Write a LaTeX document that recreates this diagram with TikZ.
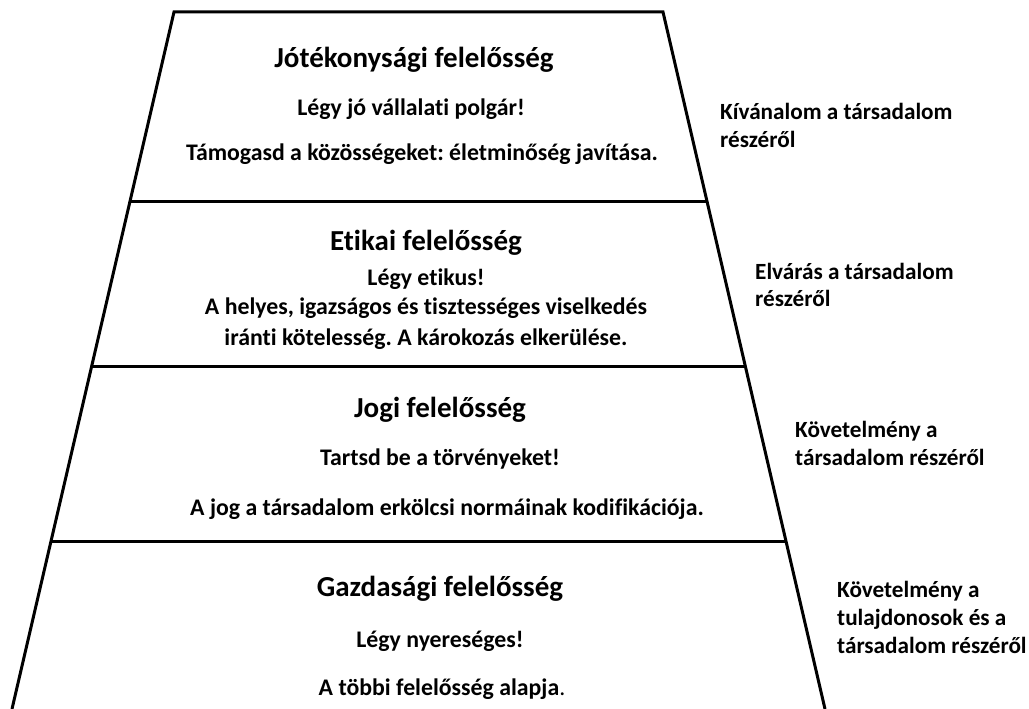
\documentclass[tikz,border=0pt]{standalone}
\usepackage{fontspec}
\setmainfont{Carlito}[Ligatures={NoCommon}]
\frenchspacing
\begin{document}
\begin{tikzpicture}[x=1pt,y=-1pt,
  edge/.style={line width=3pt,line cap=butt,line join=miter},
  ttl/.style={font=\fontsize{29}{34}\selectfont\bfseries,inner sep=0pt,anchor=base},
  body/.style={font=\fontsize{23.8}{28}\selectfont\bfseries,inner sep=0pt,anchor=base},
  lbl/.style={font=\fontsize{23.2}{28}\selectfont\bfseries,inner sep=0pt,anchor=base west}]
\useasboundingbox (0,0) rectangle (1029,709);
% pyramid outline
\coordinate (TL) at (174,12);
\coordinate (TR) at (663,12);
\coordinate (BL) at (12,709);
\coordinate (BR) at (825,709);
\coordinate (L1) at (130.1,201);
\coordinate (R1) at (706.9,201);
\coordinate (L2) at (91.7,366);
\coordinate (R2) at (745.3,366);
\coordinate (L3) at (51.1,541);
\coordinate (R3) at (785.9,541);
\draw[edge] (BL) -- (TL) -- (TR) -- (BR);
\draw[edge] (L1) -- (R1);
\draw[edge] (L2) -- (R2);
\draw[edge] (L3) -- (R3);
% layer 1
\node[ttl] (t1) at (414,68) {Jótékonysági felelősség};
\node[body] (t1a) at (411,115) {Légy jó vállalati polgár!};
\node[body] (t1b) at (422,160) {Támogasd a közösségeket: életminőség javítása.};
% layer 2
\node[ttl] (t2) at (426,250) {Etikai felelősség};
\node[body] (t2a) at (426,285) {Légy etikus!};
\node[body] (t2b) at (426,314) {A helyes, igazságos és tisztességes viselkedés};
\node[body] (t2c) at (426,345) {iránti kötelesség. A károkozás elkerülése.};
% layer 3
\node[ttl] (t3) at (440,417) {Jogi felelősség};
\node[body] (t3a) at (440,465) {Tartsd be a törvényeket!};
\node[body] (t3b) at (447,515) {A jog a társadalom erkölcsi normáinak kodifikációja.};
% layer 4
\node[ttl] (t4) at (440,596) {Gazdasági felelősség};
\node[body] (t4a) at (440,647) {Légy nyereséges!};
\node[body] (t4b) at (442,695) {A többi felelősség alapja{\mdseries .}};
% right labels
\node[lbl] (r1a) at (720,119) {Kívánalom a társadalom};
\node[lbl] (r1b) at (720,147) {részéről};
\node[lbl] (r2a) at (755,279) {Elvárás a társadalom};
\node[lbl] (r2b) at (755,306) {részéről};
\node[lbl] (r3a) at (795,437) {Követelmény a};
\node[lbl] (r3b) at (795,465) {társadalom részéről};
\node[lbl] (r4a) at (837,597) {Követelmény a};
\node[lbl] (r4b) at (837,625) {tulajdonosok és a};
\node[lbl] (r4c) at (837,653) {társadalom részéről};
\end{tikzpicture}
\end{document}
